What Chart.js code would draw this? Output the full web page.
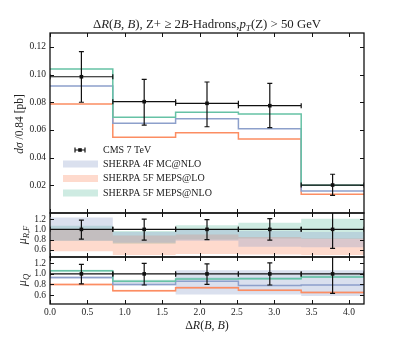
<!DOCTYPE html>
<html>
<head>
<meta charset="utf-8">
<script src="https://cdn.jsdelivr.net/npm/chart.js@4.4.1/dist/chart.umd.min.js"></script>
<style>
body { margin: 0; background: #fff; }
#wrap { position: relative; width: 405px; height: 337px; }
#wrap canvas { position: absolute; left: 0; top: 0; }
</style>
</head>
<body>
<div id="wrap">
  <canvas id="main" width="405" height="337"></canvas>
  <canvas id="ratioRF" width="405" height="337"></canvas>
  <canvas id="ratioQ" width="405" height="337"></canvas>
</div>
<script>
// bins
const binEdges = [0, 0.84, 1.68, 2.52, 3.36, 4.2];
const binCenters = [0.42, 1.26, 2.10, 2.94, 3.78];

// main panel: d sigma / bin [pb]
const cmsXsec   = [0.0984, 0.0804, 0.0792, 0.0775, 0.0202];
const cmsErrHi  = [0.1165, 0.0965, 0.0946, 0.0936, 0.0280];
const cmsErrLo  = [0.0800, 0.0635, 0.0623, 0.0616, 0.0128];
const mcnlo4F   = [0.0917, 0.0648, 0.0681, 0.0609, 0.0159];
const mepsLo5F  = [0.0787, 0.0547, 0.0580, 0.0534, 0.0135];
const mepsNlo5F = [0.1040, 0.0691, 0.0727, 0.0715, 0.0200];

// ratio panels: data relative errors
const ratioOne   = [1, 1, 1, 1, 1];
const ratioErrHi = [1.18, 1.20, 1.19, 1.21, 1.39];
const ratioErrLo = [0.81, 0.79, 0.80, 0.79, 0.63];

// mu_R,F variation bands
const rf4FLo   = [0.78, 0.74, 0.78, 0.66, 0.65];
const rf4FHi   = [1.23, 0.95, 1.00, 0.97, 0.95];
const rfLo5FLo = [0.57, 0.50, 0.52, 0.51, 0.50];
const rfLo5FHi = [1.00, 0.88, 0.90, 0.85, 0.82];
const rfNlo5FLo = [0.78, 0.72, 0.80, 0.82, 0.81];
const rfNlo5FHi = [1.07, 0.97, 1.08, 1.13, 1.21];

// mu_Q variation: central ratios + bands
const q4F      = [0.93, 0.80, 0.86, 0.78, 0.79];
const q4FLo    = [0.91, 0.78, 0.61, 0.61, 0.58];
const q4FHi    = [0.95, 0.87, 1.07, 1.07, 1.07];
const qLo5F    = [0.80, 0.68, 0.74, 0.69, 0.65];
const qLo5FLo  = [0.78, 0.66, 0.72, 0.67, 0.63];
const qLo5FHi  = [0.82, 0.70, 0.76, 0.71, 0.67];
const qNlo5F   = [1.06, 0.86, 0.905, 0.91, 0.94];
const qNlo5FLo = [1.03, 0.84, 0.89, 0.89, 0.92];
const qNlo5FHi = [1.08, 0.89, 0.93, 0.94, 0.97];

// ticks
const xTicks = [0, 0.5, 1.0, 1.5, 2.0, 2.5, 3.0, 3.5, 4.0];
const yTicksMain = [0.02, 0.04, 0.06, 0.08, 0.10, 0.12];
const yTicksRatio = [0.6, 0.8, 1.0, 1.2];

const legendLabels = ['CMS 7 TeV', 'SHERPA 4F MC@NLO', 'SHERPA 5F MEPS@LO', 'SHERPA 5F MEPS@NLO'];

// colours
const blue = '#8da0cb', orange = '#fc8d62', green = '#66c2a5';
const blueBand = 'rgba(141,160,203,0.32)';
const orangeBand = 'rgba(252,141,98,0.32)';
const greenBand = 'rgba(102,194,165,0.32)';

const serif = '"Liberation Serif", "DejaVu Serif", serif';
const txtCol = '#222';

// step points on the bin edges (last value repeated to close the last bin)
function steps(vals) {
    return binEdges.map((e, i) => ({ x: e, y: vals[Math.min(i, vals.length - 1)] }));
}

function stepLine(label, vals, color) {
    return { label: label, data: steps(vals), stepped: 'before', borderColor: color, borderWidth: 1.5,
             pointRadius: 0, fill: false };
}

function band(vHi, vLo, color) {
    return [
        { data: steps(vHi), stepped: 'before', borderColor: 'transparent', borderWidth: 0, pointRadius: 0,
          fill: '+1', backgroundColor: color },
        { data: steps(vLo), stepped: 'before', borderColor: 'transparent', borderWidth: 0, pointRadius: 0,
          fill: false }
    ];
}

// text with italic parts and subscripts
function drawMath(ctx, parts, x, y, size, rot) {
    ctx.save();
    ctx.translate(x, y);
    if (rot) ctx.rotate(rot);
    let w = 0;
    const fonts = parts.map(p => {
        const sub = p[1] === 's';
        const f = (p[1] === 'n' ? '' : 'italic ') + (sub ? size * 0.72 : size) + 'px ' + serif;
        ctx.font = f;
        const pw = ctx.measureText(p[0]).width;
        w += pw;
        return { f: f, w: pw, sub: sub };
    });
    let cx = -w / 2;
    ctx.fillStyle = txtCol;
    ctx.textBaseline = 'alphabetic';
    ctx.textAlign = 'left';
    parts.forEach((p, i) => {
        ctx.font = fonts[i].f;
        ctx.fillText(p[0], cx, fonts[i].sub ? size * 0.25 : 0);
        cx += fonts[i].w;
    });
    ctx.restore();
}

// frame + inward ticks on all four sides
function drawFrame(chart) {
    const ctx = chart.ctx;
    const a = chart.chartArea;
    const xs = chart.scales.x, ys = chart.scales.y;
    ctx.save();
    ctx.strokeStyle = '#111';
    ctx.lineWidth = 1;
    ctx.beginPath();
    xTicks.forEach(v => {
        const px = Math.round(xs.getPixelForValue(v)) + 0.5;
        ctx.moveTo(px, a.bottom); ctx.lineTo(px, a.bottom - 4);
        ctx.moveTo(px, a.top); ctx.lineTo(px, a.top + 4);
    });
    ys.ticks.forEach(t => {
        const py = Math.round(ys.getPixelForValue(t.value)) + 0.5;
        ctx.moveTo(a.left, py); ctx.lineTo(a.left + 4, py);
        ctx.moveTo(a.right, py); ctx.lineTo(a.right - 4, py);
    });
    ctx.stroke();
    ctx.lineWidth = 1.3;
    ctx.strokeRect(a.left, a.top, a.right - a.left, a.bottom - a.top);
    ctx.restore();
}

// data points: x error = bin width, y error bars with caps
function drawErrors(chart, vals, hi, lo) {
    const ctx = chart.ctx;
    const a = chart.chartArea;
    const xs = chart.scales.x, ys = chart.scales.y;
    ctx.save();
    ctx.beginPath();
    ctx.rect(a.left, a.top, a.right - a.left, a.bottom - a.top);
    ctx.clip();
    ctx.strokeStyle = '#111';
    ctx.fillStyle = '#111';
    ctx.lineWidth = 1.2;
    vals.forEach((v, i) => {
        const x0 = xs.getPixelForValue(binEdges[i]);
        const x1 = xs.getPixelForValue(binEdges[i + 1]);
        const xc = xs.getPixelForValue(binCenters[i]);
        const y = ys.getPixelForValue(v);
        const yh = ys.getPixelForValue(hi[i]);
        const yl = ys.getPixelForValue(lo[i]);
        ctx.beginPath();
        ctx.moveTo(x0, y); ctx.lineTo(x1, y);
        ctx.moveTo(x0, y - 2.5); ctx.lineTo(x0, y + 2.5);
        ctx.moveTo(x1, y - 2.5); ctx.lineTo(x1, y + 2.5);
        ctx.moveTo(xc, yh); ctx.lineTo(xc, yl);
        ctx.moveTo(xc - 2.5, yh); ctx.lineTo(xc + 2.5, yh);
        ctx.moveTo(xc - 2.5, yl); ctx.lineTo(xc + 2.5, yl);
        ctx.stroke();
        ctx.fillRect(xc - 1.8, y - 1.8, 3.6, 3.6);
    });
    ctx.restore();
}

function yScale(min, max, ticks, digits) {
    return {
        type: 'linear', min: min, max: max,
        afterBuildTicks: s => { s.ticks = ticks.map(v => ({ value: v })); },
        afterFit: s => { s.width = 50; },
        grid: { display: false, drawTicks: false },
        border: { display: false },
        ticks: { padding: 4, color: txtCol, font: { family: serif, size: 9.5 },
                 callback: v => v.toFixed(digits) }
    };
}

function xScale(show) {
    return {
        type: 'linear', min: 0, max: 4.2, display: show,
        afterBuildTicks: s => { s.ticks = xTicks.map(v => ({ value: v })); },
        afterFit: s => { if (show) s.height = 33; },
        grid: { display: false, drawTicks: false },
        border: { display: false },
        ticks: { padding: 3, color: txtCol, maxRotation: 0, font: { family: serif, size: 9.5 },
                 callback: v => v.toFixed(1) }
    };
}

const baseOpts = (padTop, padBottom) => ({
    responsive: false,
    animation: false,
    layout: { padding: { left: 0, right: 41, top: padTop, bottom: padBottom } },
    plugins: { legend: { display: false }, tooltip: { enabled: false } }
});

// ---- main panel
new Chart(document.getElementById('main'), {
    type: 'line',
    data: {
        datasets: [
            stepLine(legendLabels[3], mepsNlo5F, green),
            stepLine(legendLabels[1], mcnlo4F, blue),
            stepLine(legendLabels[2], mepsLo5F, orange)
        ]
    },
    options: Object.assign(baseOpts(33, 124), {
        scales: { x: xScale(false), y: yScale(0, 0.13, yTicksMain, 2) }
    }),
    plugins: [{
        id: 'mainDeco',
        afterDatasetsDraw(chart) {
            drawErrors(chart, cmsXsec, cmsErrHi, cmsErrLo);
        },
        afterDraw(chart) {
            drawFrame(chart);
            const ctx = chart.ctx;
            // title
            drawMath(ctx, [['Δ', 'n'], ['R', 'i'], ['(', 'n'], ['B', 'i'], [', ', 'n'], ['B', 'i'],
                ['), Z+ ≥ 2', 'n'], ['B', 'i'], ['-Hadrons,', 'n'], ['p', 'i'], ['T', 's'],
                ['(Z) > 50 GeV', 'n']], 207, 28, 12.8, 0);
            // y title
            drawMath(ctx, [['dσ', 'i'], [' /0.84 [pb]', 'n']], 23, 124, 11.5, -Math.PI / 2);
            // legend
            ctx.save();
            ctx.font = '10px ' + serif;
            ctx.fillStyle = txtCol;
            ctx.textBaseline = 'middle';
            const rows = [150, 164, 178.5, 193];
            ctx.fillText(legendLabels[0], 103, rows[0]);
            ctx.strokeStyle = '#111';
            ctx.lineWidth = 1.2;
            ctx.beginPath();
            ctx.moveTo(75, rows[0]); ctx.lineTo(85, rows[0]);
            ctx.moveTo(75, rows[0] - 2.5); ctx.lineTo(75, rows[0] + 2.5);
            ctx.moveTo(85, rows[0] - 2.5); ctx.lineTo(85, rows[0] + 2.5);
            ctx.stroke();
            ctx.fillStyle = '#111';
            ctx.fillRect(78.2, rows[0] - 1.8, 3.6, 3.6);
            [blueBand, orangeBand, greenBand].forEach((c, i) => {
                ctx.fillStyle = c;
                ctx.fillRect(63, rows[i + 1] - 3.5, 35, 7);
                ctx.fillStyle = txtCol;
                ctx.fillText(legendLabels[i + 1], 103, rows[i + 1]);
            });
            ctx.restore();
        }
    }]
});

// ---- mu_R,F ratio panel
new Chart(document.getElementById('ratioRF'), {
    type: 'line',
    data: {
        datasets: [].concat(
            band(rf4FHi, rf4FLo, blueBand),
            band(rfLo5FHi, rfLo5FLo, orangeBand),
            band(rfNlo5FHi, rfNlo5FLo, greenBand)
        )
    },
    options: Object.assign(baseOpts(213, 80), {
        scales: { x: xScale(false), y: yScale(0.46, 1.32, yTicksRatio, 1) }
    }),
    plugins: [{
        id: 'rfDeco',
        afterDatasetsDraw(chart) {
            drawErrors(chart, ratioOne, ratioErrHi, ratioErrLo);
        },
        afterDraw(chart) {
            drawFrame(chart);
            drawMath(chart.ctx, [['μ', 'i'], ['R,F', 's']], 26, 235, 12, -Math.PI / 2);
        }
    }]
});

// ---- mu_Q ratio panel
new Chart(document.getElementById('ratioQ'), {
    type: 'line',
    data: {
        datasets: [].concat(
            [stepLine(legendLabels[3], qNlo5F, green),
             stepLine(legendLabels[1], q4F, blue),
             stepLine(legendLabels[2], qLo5F, orange)],
            band(q4FHi, q4FLo, blueBand),
            band(qLo5FHi, qLo5FLo, orangeBand),
            band(qNlo5FHi, qNlo5FLo, greenBand)
        )
    },
    options: Object.assign(baseOpts(257, 0), {
        scales: { x: xScale(true), y: yScale(0.43, 1.32, yTicksRatio, 1) }
    }),
    plugins: [{
        id: 'qDeco',
        afterDatasetsDraw(chart) {
            drawErrors(chart, ratioOne, ratioErrHi, ratioErrLo);
        },
        afterDraw(chart) {
            drawFrame(chart);
            drawMath(chart.ctx, [['μ', 'i'], ['Q', 's']], 26, 280, 12, -Math.PI / 2);
            drawMath(chart.ctx, [['Δ', 'n'], ['R', 'i'], ['(', 'n'], ['B', 'i'], [', ', 'n'], ['B', 'i'],
                [')', 'n']], 207, 329, 12, 0);
        }
    }]
});
</script>
</body>
</html>
